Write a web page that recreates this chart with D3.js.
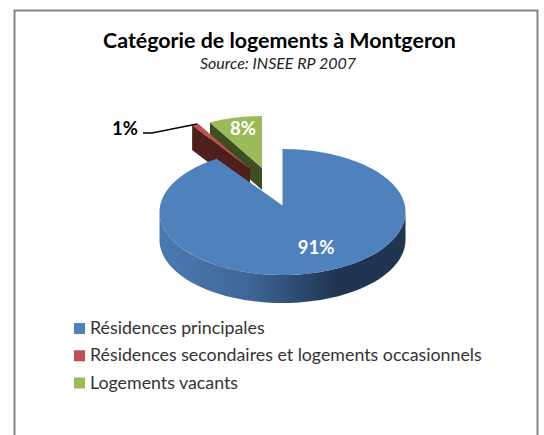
<!DOCTYPE html>
<html><head><meta charset="utf-8">
<script src="https://cdn.jsdelivr.net/npm/d3@7"></script>
<style>html,body{margin:0;padding:0;background:#fff}svg{display:block}text{font-family:Lato,"Open Sans",sans-serif}</style>
</head><body><svg id="c" width="544" height="435"></svg>
<script>
const categories = ["Résidences principales","Résidences secondaires et logements occasionnels","Logements vacants"];
const values = [91,1,8];
const labels = ["91%","1%","8%"];
const colors = ["#4f81bd","#c0504d","#9bbb59"];
const darks = ["#1f3552","#4f1f1e","#3f4d24"];

const svg = d3.select("#c");
svg.append("rect").attr("x",14.5).attr("y",10.5).attr("width",523).attr("height",444).attr("fill","#fff").attr("stroke","#868686").attr("stroke-width",2);

svg.append("text").attr("x",279.5).attr("y",48).attr("text-anchor","middle").attr("font-size",21.4).attr("font-weight",700).attr("fill","#000").text("Catégorie de logements à Montgeron");
svg.append("text").attr("x",278).attr("y",69).attr("text-anchor","middle").attr("font-size",16).attr("font-style","italic").attr("fill","#222").text("Source: INSEE RP 2007");

const defs = svg.append("defs");
const g = defs.append("linearGradient").attr("id","side").attr("gradientUnits","userSpaceOnUse").attr("x1",160).attr("x2",406).attr("y1",0).attr("y2",0);
[[0,"#4a79b2"],[.35,"#3f6898"],[.72,"#1f3552"],[1,"#1f3552"]].forEach(s=>g.append("stop").attr("offset",s[0]).attr("stop-color",s[1]));

const pie = d3.pie().sort(null)(values);
const arc = d3.arc().innerRadius(0).outerRadius(1);
// geometry of each (exploded) slice; ay = apex height under perspective
const geo = [
  {cx:282.5,cy:212,rx:123,ry:63,d:28,ay:205.5},
  {cx:250,cy:169,rx:108,ry:52,d:25},
  {cx:262,cy:168,rx:108,ry:52,d:22}
];
const line=d3.line();
const pt=(o,a,dz=0)=>[o.cx+o.rx*Math.sin(a),o.cy-o.ry*Math.cos(a)+dz];
function face(o,a){ // radial cut face
  const p=pt(o,a),q=pt(o,a,o.d),c=[o.cx,o.cy],e=[o.cx,o.cy+o.d];
  return line([c,p,q,e])+"Z";
}
function rim(o,a0,a1){ // outer curved wall, front (lower) half only
  const n=d3.range(0,61).map(i=>a0+(a1-a0)*i/60);
  return line(n.map(a=>pt(o,a)).concat(n.map(a=>pt(o,a,o.d)).reverse()))+"Z";
}
[2,1,0].forEach(i=>{
  const s=pie[i],o=geo[i];
  if(i>0){
    svg.append("path").attr("d",face(o,s.startAngle)).attr("fill",darks[i]);
    svg.append("path").attr("transform",`translate(${o.cx},${o.cy}) scale(${o.rx},${o.ry})`)
       .attr("d",arc({startAngle:s.startAngle,endAngle:s.endAngle})).attr("fill",colors[i]);
  } else {
    svg.append("path").attr("d",rim(o,Math.PI/2,3*Math.PI/2)).attr("fill","url(#side)");
    const n=d3.range(0,181).map(k=>s.startAngle+(s.endAngle-s.startAngle)*k/180);
    svg.append("path").attr("d",line([[o.cx,o.ay]].concat(n.map(a=>pt(o,a))))+"Z").attr("fill",colors[i]);
  }
});

// data labels
svg.append("text").attr("x",316).attr("y",254).attr("text-anchor","middle").attr("font-size",18.5).attr("font-weight",700).attr("fill","#fff").text(labels[0]);
svg.append("text").attr("x",243).attr("y",135).attr("text-anchor","middle").attr("font-size",18.5).attr("font-weight",700).attr("fill","#fff").text(labels[2]);
svg.append("text").attr("x",125).attr("y",135).attr("text-anchor","middle").attr("font-size",18.5).attr("font-weight",700).attr("fill","#000").text(labels[1]);
svg.append("path").attr("d","M143,133L152,133L192,125L197,124").attr("fill","none").attr("stroke","#000").attr("stroke-width",1.5);

// legend
const ly=d3.scalePoint().domain(categories).range([328,382.5]);
categories.forEach((c,i)=>{
  svg.append("rect").attr("x",74).attr("y",ly(c)-5).attr("width",11).attr("height",11).attr("fill",colors[i]);
  svg.append("text").attr("x",90).attr("y",ly(c)+6).attr("font-size",17.8).attr("fill","#333").text(c);
});
</script></body></html>
